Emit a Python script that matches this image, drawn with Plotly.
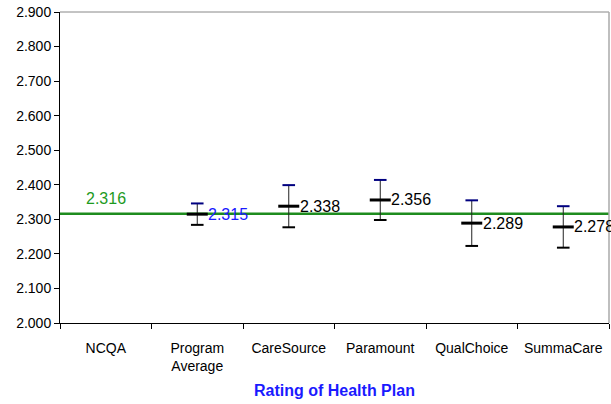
import plotly.graph_objects as go

categories = ["NCQA", "Program<br>Average", "CareSource", "Paramount", "QualChoice", "SummaCare"]
plan_names = ["Program<br>Average", "CareSource", "Paramount", "QualChoice", "SummaCare"]
plan_means = [2.315, 2.338, 2.356, 2.289, 2.278]
plan_errors = [0.031, 0.061, 0.058, 0.066, 0.060]
label_colors = ["#1a1aff", "black", "black", "black", "black"]
ncqa_value = 2.316
y_tickvals = [2.0, 2.1, 2.2, 2.3, 2.4, 2.5, 2.6, 2.7, 2.8, 2.9]

upper = [m + e for m, e in zip(plan_means, plan_errors)]
lower = [m - e for m, e in zip(plan_means, plan_errors)]

fig = go.Figure()

# invisible trace to fix category order
fig.add_trace(go.Scatter(x=categories, y=[None] * len(categories), mode="markers",
                         showlegend=False, hoverinfo="skip"))

# vertical error lines
fig.add_trace(go.Scatter(
    x=plan_names, y=plan_means, mode="markers",
    marker=dict(size=1, color="rgba(0,0,0,0)"),
    error_y=dict(type="data", array=plan_errors, arrayminus=plan_errors,
                 color="#222", thickness=1, width=0),
    showlegend=False, hoverinfo="skip"))

# lower caps (black)
fig.add_trace(go.Scatter(
    x=plan_names, y=lower, mode="markers",
    marker=dict(symbol="line-ew", size=9, line=dict(width=2, color="black")),
    showlegend=False, hoverinfo="skip"))

# upper caps (navy)
fig.add_trace(go.Scatter(
    x=plan_names, y=upper, mode="markers",
    marker=dict(symbol="line-ew", size=9, line=dict(width=2, color="#000080")),
    showlegend=False, hoverinfo="skip"))

# mean markers
fig.add_trace(go.Scatter(
    x=plan_names, y=plan_means, mode="markers",
    marker=dict(symbol="line-ew", size=15, line=dict(width=3, color="black")),
    showlegend=False, hoverinfo="skip"))

annotations = []
for name, m, c in zip(plan_names, plan_means, label_colors):
    annotations.append(dict(x=name, y=m, xref="x", yref="y", text=f"{m:.3f}",
                            showarrow=False, xanchor="left", yanchor="middle",
                            xshift=9, font=dict(size=16, color=c)))

annotations.append(dict(x="NCQA", y=ncqa_value, xref="x", yref="y", text=f"{ncqa_value:.3f}",
                        showarrow=False, xanchor="center", yanchor="bottom", yshift=5,
                        font=dict(size=16, color="#1e9a1e")))

annotations.append(dict(x=0.5, y=-0.2177, xref="paper", yref="paper",
                        text="<b>Rating of Health Plan</b>", showarrow=False,
                        xanchor="center", yanchor="middle",
                        font=dict(size=16, color="#1a1aff")))

shapes = [
    dict(type="line", xref="paper", yref="y", x0=0, x1=1, y0=ncqa_value, y1=ncqa_value,
         line=dict(color="#1e8c1e", width=2.5), layer="below"),
    dict(type="line", xref="paper", yref="paper", x0=0, x1=1, y0=1, y1=1,
         line=dict(color="#888", width=1)),
    dict(type="line", xref="paper", yref="paper", x0=1, x1=1, y0=0, y1=1,
         line=dict(color="#aaa", width=1.5)),
]

fig.update_layout(
    width=611, height=404,
    margin=dict(l=60, r=2, t=12, b=81, autoexpand=False),
    paper_bgcolor="white", plot_bgcolor="white",
    font=dict(family="Liberation Sans, Arial, sans-serif", size=14, color="black"),
    showlegend=False,
    annotations=annotations,
    shapes=shapes,
    xaxis=dict(type="category", categoryorder="array", categoryarray=categories,
               range=[-0.5, 5.5], tickson="boundaries", ticks="outside", ticklen=5,
               tickcolor="black", showline=True, linecolor="black", linewidth=1,
               showgrid=False, zeroline=False, ticklabelstandoff=12, automargin=False,
               tickfont=dict(size=14)),
    yaxis=dict(range=[2.0, 2.9], tickvals=y_tickvals, tickformat=".3f",
               ticks="outside", ticklen=5, tickcolor="black", automargin=False,
               showline=True, linecolor="black", linewidth=1,
               showgrid=False, zeroline=False, tickfont=dict(size=14)),
)

fig.write_html("out.html", config={"displayModeBar": False},
               post_script="document.body.style.margin='0';document.body.style.overflow='hidden';")
